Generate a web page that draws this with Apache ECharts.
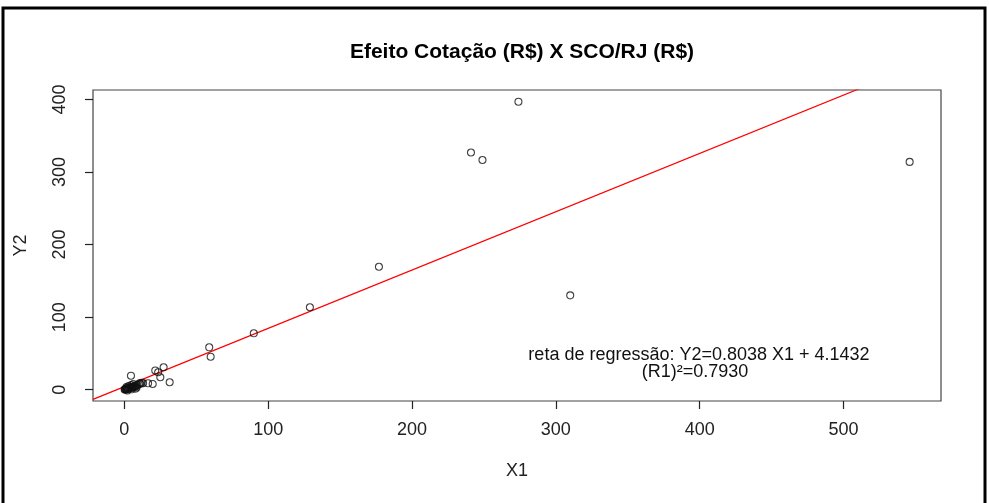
<!DOCTYPE html>
<html>
<head>
<meta charset="utf-8">
<script src="https://cdn.jsdelivr.net/npm/echarts@6/dist/echarts.min.js"></script>
<style>
html,body{margin:0;padding:0;background:#fff;}
#chart{width:989px;height:503px;}
</style>
</head>
<body>
<div id="chart"></div>
<script>
// Data
const x1Values = [274, 241, 249, 546, 310, 177, 129, 90, 59, 60,
  31.5, 27.3, 21.5, 23.5, 25, 19.7, 16.5, 10.6, 4.6,
  0.2, 0.5, 0.8, 1.0, 1.3, 1.6, 2.0, 2.4, 2.8, 3.2, 3.6, 4.0, 4.5, 5.0, 5.5, 6.0, 6.5, 7.0, 7.5, 8.0, 9.0, 10.0, 11.0, 12.0, 13.0,
  1.5, 3.0, 4.8, 6.2, 8.5, 2.2, 5.2, 7.8];
const y2Values = [397, 327, 316.6, 314, 130, 169.5, 113.6, 77.7, 58.4, 45.5,
  10.2, 30.9, 26.5, 24, 17.1, 7.9, 8.8, 8.8, 19.3,
  0.1, 0.6, 0.3, 1.2, 0.8, 1.5, 0.9, 2.1, 1.4, 2.6, 1.8, 3.2, 2.5, 3.8, 2.9, 4.4, 3.5, 5.1, 4.2, 5.8, 6.3, 7.4, 8.1, 9.5, 9.0,
  3.5, 5.0, 6.5, 7.8, 3.0, -1.0, 0.5, 1.5];
const xTicks = [0, 100, 200, 300, 400, 500];
const yTicks = [0, 100, 200, 300, 400];
const slope = 0.8038;
const intercept = 4.1432;
const r2 = 0.7930;
const xRange = [-21.8, 567.8];
const yRange = [-15.6, 413.1];

const points = x1Values.map((x, i) => [x, y2Values[i]]);
const regLine = xRange.map(x => [x, slope * x + intercept]);

const font = '"Liberation Sans", Arial, sans-serif';
const chart = echarts.init(document.getElementById('chart'));
chart.setOption({
  animation: false,
  backgroundColor: '#fff',
  title: {
    text: 'Efeito Cotação (R$) X SCO/RJ (R$)',
    left: 517, top: 37, textAlign: 'center',
    textStyle: {fontFamily: font, fontSize: 21, fontWeight: 'bold', color: '#000'}
  },
  grid: {
    left: 93, top: 90, right: 48, bottom: 102,
    show: true, borderColor: '#444', borderWidth: 1.2, backgroundColor: 'transparent'
  },
  xAxis: {
    type: 'value', min: xRange[0], max: xRange[1],
    name: 'X1', nameLocation: 'middle', nameGap: 61,
    nameTextStyle: {fontFamily: font, fontSize: 18, color: '#222'},
    axisLine: {show: false, onZero: false},
    axisTick: {show: true, inside: false, length: 8, customValues: xTicks, lineStyle: {color: '#222', width: 1.2}},
    axisLabel: {customValues: xTicks, margin: 20, fontFamily: font, fontSize: 18, color: '#222'},
    splitLine: {show: false}
  },
  yAxis: {
    type: 'value', min: yRange[0], max: yRange[1],
    name: 'Y2', nameLocation: 'middle', nameGap: 63,
    nameTextStyle: {fontFamily: font, fontSize: 18, color: '#222'},
    axisLine: {show: false, onZero: false},
    axisTick: {show: true, inside: false, length: 8, customValues: yTicks, lineStyle: {color: '#222', width: 1.2}},
    axisLabel: {customValues: yTicks, rotate: 90, margin: 24, fontFamily: font, fontSize: 18, color: '#222'},
    splitLine: {show: false}
  },
  series: [
    {
      type: 'scatter', data: points, symbol: 'circle', symbolSize: 7,
      itemStyle: {color: 'rgba(0,0,0,0)', borderColor: '#111', borderWidth: 1.1},
      z: 3
    },
    {
      type: 'line', data: regLine, symbol: 'none', clip: true,
      lineStyle: {color: '#ff0000', width: 1.2}, z: 2
    }
  ],
  graphic: [
    {type: 'rect', shape: {x: 3, y: 8, width: 982, height: 520}, style: {fill: 'none', stroke: '#000', lineWidth: 3}, silent: true},
    {type: 'text', x: 699, y: 355, style: {text: 'reta de regressão: Y2=' + slope.toFixed(4) + ' X1 + ' + intercept.toFixed(4), fontFamily: font, fontSize: 18, fill: '#111', textAlign: 'center', textVerticalAlign: 'middle'}},
    {type: 'text', x: 695, y: 372, style: {text: '(R1)²=' + r2.toFixed(4), fontFamily: font, fontSize: 18, fill: '#111', textAlign: 'center', textVerticalAlign: 'middle'}}
  ]
});
</script>
</body>
</html>
